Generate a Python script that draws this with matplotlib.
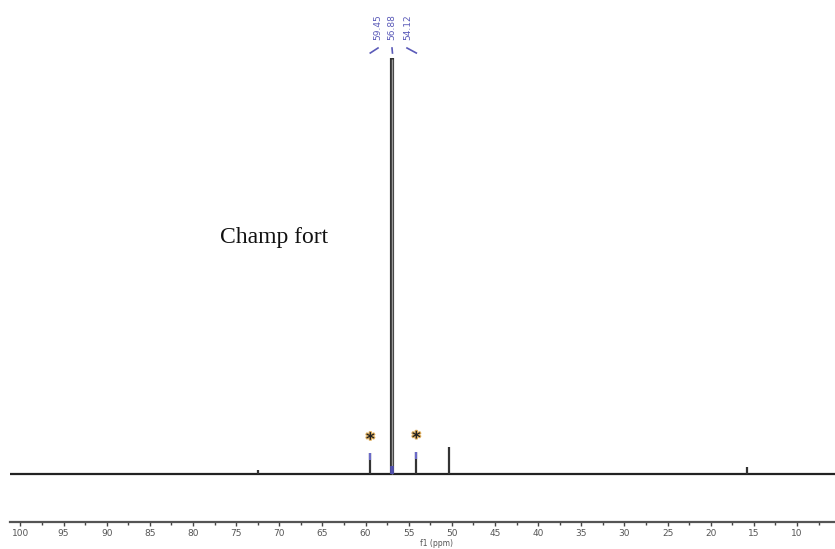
import matplotlib
matplotlib.use("Agg")
import matplotlib.pyplot as plt
import matplotlib.patheffects as pe
import numpy as np

# ---- data ----
peak_ppm = [72.5, 59.45, 56.88, 54.12, 50.3, 15.8]
peak_height = [0.9, 5.0, 100.0, 5.3, 6.5, 1.7]
label_values = ["59.45", "56.88", "54.12"]
label_peak_ppm = [59.45, 56.88, 54.12]
star_ppm = [59.45, 54.12]
star_height = [5.0, 5.3]
tick_values = list(range(100, 9, -5))
text_label = "Champ fort"

W, H = 835, 549
fig = plt.figure(figsize=(W / 100, H / 100), dpi=100)
ax = fig.add_axes([10 / W, 27 / H, 825 / W, 522 / H])
ax.patch.set_alpha(0)

x_left, x_right = 101.2, 5.6
ax.set_xlim(x_left, x_right)
ax.set_ylim(-11.54, 113.9)

# baseline
ax.plot([x_left, x_right], [0, 0], color="#222222", lw=1.6, zorder=2)
# peaks
for p, h in zip(peak_ppm, peak_height):
    if h > 50:
        ax.vlines(p, 0, h, color="#333333", lw=3.0, zorder=3)
        ax.vlines(p, 0, h - 0.3, color="#9a9a9a", lw=1.0, zorder=3.5)
    else:
        ax.vlines(p, 0, h, color="#333333", lw=1.6, zorder=3)
# blue tops on labelled minor peaks
for p, h in zip(star_ppm, star_height):
    ax.vlines(p, h - 1.6, h, color="#6a6ac8", lw=1.6, zorder=4)
ax.vlines(56.88, 0, 2.0, color="#5050b0", lw=2.6, zorder=4)

# asterisks
for p, h in zip(star_ppm, star_height):
    ax.text(p, h + 3.3, "*", ha="center", va="center", fontsize=12,
            fontweight="bold", color="#222222",
            path_effects=[pe.withStroke(linewidth=1.5, foreground="#e0b060")])

# axis styling
for s in ["top", "left", "right"]:
    ax.spines[s].set_visible(False)
ax.spines["bottom"].set_color("#555555")
ax.spines["bottom"].set_linewidth(1.6)
ax.set_yticks([])
ax.set_xticks(tick_values)
ax.set_xticks(np.array(tick_values) - 2.5, minor=True)
ax.tick_params(axis="x", which="major", direction="out", length=3, width=1,
               color="#444444", labelsize=6.5, labelcolor="#555555", pad=2)
ax.tick_params(axis="x", which="minor", direction="out", length=2, width=1,
               color="#444444")
fig.text(437 / W, 1 - 544 / H, "f1 (ppm)", ha="center", va="center",
         fontsize=5.5, color="#555555")

# peak labels at top
label_x_px = [378, 392, 408]
line_top_x_px = [378, 392, 407]
for lx, val, ltx, pp in zip(label_x_px, label_values, line_top_x_px,
                            label_peak_ppm):
    fig.text(lx / W, 1 - 14 / H, val, rotation=90, ha="center", va="top",
             fontsize=6.5, color="#5a5ab8")
    px_data = ax.transData.transform((pp, 0))[0]
    fig.add_artist(plt.Line2D([ltx / W, px_data / W],
                              [1 - 48 / H, 1 - 53 / H],
                              color="#5a5ab8", lw=1.2))

fig.text(220 / W, 1 - 238 / H, text_label, ha="left", va="center",
         fontsize=17, family="Liberation Serif", color="#111111")

fig.savefig("out.png", dpi=100)
